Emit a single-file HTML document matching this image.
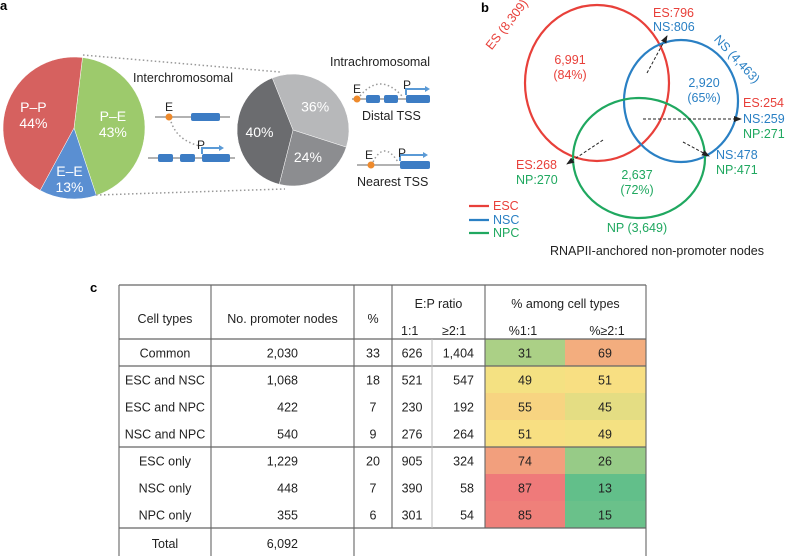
<!DOCTYPE html>
<html><head><meta charset="utf-8"><style>
body{margin:0;background:#fff;width:791px;height:556px;overflow:hidden;font-family:"Liberation Sans",Arial,sans-serif}
svg{position:absolute;left:0;top:0}
text{font-family:"Liberation Sans",Arial,sans-serif}
</style></head><body>
<svg id="fig" width="791" height="556" viewBox="0 0 791 556">
<text x="0" y="10" font-size="13" font-weight="bold">a</text>
<g id="pie1"></g>
<g id="pie2"></g>
<line x1="83" y1="55" x2="280" y2="72" stroke="#999" stroke-width="1.5" stroke-dasharray="1.5,2.5"/>
<line x1="96" y1="195" x2="285" y2="189" stroke="#999" stroke-width="1.5" stroke-dasharray="1.5,2.5"/>
<text x="133" y="82" font-size="12.5" fill="#222">Interchromosomal</text>
<text x="330" y="66" font-size="12.5" fill="#222">Intrachromosomal</text>
<g>
<line x1="155" y1="117" x2="230" y2="117" stroke="#999" stroke-width="1.5"/>
<rect x="191" y="113" width="29" height="8" rx="2" fill="#3c7cc4"/>
<path d="M170,118 Q175,140 200,146" fill="none" stroke="#999" stroke-width="1.5" stroke-dasharray="1.5,2.5"/>
<circle cx="169" cy="117" r="3.5" fill="#ee8a2c"/>
<text x="165" y="111" font-size="12" fill="#222">E</text>
<line x1="148" y1="158" x2="235" y2="158" stroke="#999" stroke-width="1.5"/>
<rect x="158" y="154" width="15" height="8" rx="2" fill="#3c7cc4"/>
<rect x="180" y="154" width="15" height="8" rx="2" fill="#3c7cc4"/>
<rect x="202" y="154" width="28" height="8" rx="2" fill="#3c7cc4"/>
<path d="M202,154 V148 H220" fill="none" stroke="#5a9ad6" stroke-width="2"/><path d="M219,145 L224,148 L219,151Z" fill="#5a9ad6"/>
<text x="197" y="149" font-size="12" fill="#222">P</text>
</g>
<g>
<line x1="352" y1="99" x2="430" y2="99" stroke="#999" stroke-width="1.5"/>
<rect x="366" y="95" width="14" height="8" rx="2" fill="#3c7cc4"/>
<rect x="384" y="95" width="14" height="8" rx="2" fill="#3c7cc4"/>
<rect x="406" y="95" width="24" height="8" rx="2" fill="#3c7cc4"/>
<path d="M360,96 Q380,72 402,96" fill="none" stroke="#999" stroke-width="1.5" stroke-dasharray="1.5,2.5"/>
<path d="M406,95 V89 H426" fill="none" stroke="#5a9ad6" stroke-width="2"/><path d="M425,86 L430,89 L425,92Z" fill="#5a9ad6"/>
<circle cx="357" cy="99" r="3.5" fill="#ee8a2c"/>
<text x="353" y="93" font-size="12" fill="#222">E</text>
<text x="403" y="89" font-size="12" fill="#222">P</text>
<text x="362" y="120" font-size="12.5" fill="#222">Distal TSS</text>
</g>
<g>
<line x1="357" y1="165" x2="430" y2="165" stroke="#999" stroke-width="1.5"/>
<rect x="400" y="161" width="30" height="8" rx="2" fill="#3c7cc4"/>
<path d="M373,162 Q384,140 398,162" fill="none" stroke="#999" stroke-width="1.5" stroke-dasharray="1.5,2.5"/>
<path d="M400,161 V155 H424" fill="none" stroke="#5a9ad6" stroke-width="2"/><path d="M423,152 L428,155 L423,158Z" fill="#5a9ad6"/>
<circle cx="371" cy="165" r="3.5" fill="#ee8a2c"/>
<text x="365" y="159" font-size="12" fill="#222">E</text>
<text x="398" y="157" font-size="12" fill="#222">P</text>
<text x="357" y="186" font-size="12.5" fill="#222">Nearest TSS</text>
</g>

<text x="481" y="12" font-size="13" font-weight="bold">b</text>
<g>
<ellipse cx="597" cy="83" rx="72" ry="78" fill="none" stroke="#e8403a" stroke-width="2.2"/>
<ellipse cx="681" cy="101" rx="57" ry="61" fill="none" stroke="#2a80c4" stroke-width="2.2"/>
<ellipse cx="639" cy="158" rx="66" ry="60" fill="none" stroke="#20a860" stroke-width="2.2"/>
</g>
<g font-size="12.5" text-anchor="middle">
<text x="510" y="27" fill="#e8403a" transform="rotate(-52 510 27)">ES (8,309)</text>
<text x="734" y="62" fill="#2a80c4" transform="rotate(47 734 62)">NS (4,463)</text>
<text x="637" y="232" fill="#20a860">NP (3,649)</text>
<text x="570" y="64" fill="#e8403a">6,991</text>
<text x="570" y="79" fill="#e8403a">(84%)</text>
<text x="704" y="87" fill="#2a80c4">2,920</text>
<text x="704" y="102" fill="#2a80c4">(65%)</text>
<text x="637" y="179" fill="#20a860">2,637</text>
<text x="637" y="194" fill="#20a860">(72%)</text>
</g>
<g font-size="12.5">
<text x="653" y="17" fill="#e8403a">ES:796</text><text x="653" y="31" fill="#2a80c4">NS:806</text>
<text x="743" y="107" fill="#e8403a">ES:254</text><text x="743" y="123" fill="#2a80c4">NS:259</text><text x="743" y="138" fill="#20a860">NP:271</text>
<text x="716" y="159" fill="#2a80c4">NS:478</text><text x="716" y="174" fill="#20a860">NP:471</text>
<text x="516" y="169" fill="#e8403a">ES:268</text><text x="516" y="184" fill="#20a860">NP:270</text>
</g>
<defs><marker id="ah" markerWidth="8" markerHeight="8" refX="7" refY="4" orient="auto"><path d="M0,1 L8,4 L0,7 Z" fill="#222"/></marker></defs>
<g stroke="#222" stroke-width="1" stroke-dasharray="3,2" marker-end="url(#ah)">
<line x1="647" y1="73" x2="667" y2="36"/>
<line x1="643" y1="119" x2="741" y2="119"/>
<line x1="683" y1="142" x2="709" y2="156"/>
<line x1="603" y1="140" x2="567" y2="164"/>
</g>
<g>
<line x1="469" y1="206" x2="489" y2="206" stroke="#e8403a" stroke-width="2.2"/><text x="493" y="210" font-size="12.5" fill="#e8403a">ESC</text>
<line x1="469" y1="220" x2="489" y2="220" stroke="#2a80c4" stroke-width="2.2"/><text x="493" y="224" font-size="12.5" fill="#2a80c4">NSC</text>
<line x1="469" y1="233" x2="489" y2="233" stroke="#20a860" stroke-width="2.2"/><text x="493" y="237" font-size="12.5" fill="#20a860">NPC</text>
</g>
<text x="657" y="255" font-size="12.5" text-anchor="middle" fill="#222">RNAPII-anchored non-promoter nodes</text>

<text x="90" y="292" font-size="13" font-weight="bold">c</text>
<g id="table"></g>
</svg>
<script>
const SVGNS="http://www.w3.org/2000/svg";
function mk(tag,attrs,parent){const e=document.createElementNS(SVGNS,tag);for(const k in attrs)e.setAttribute(k,attrs[k]);parent.appendChild(e);return e;}
const pie1Labels=["P–E","E–E","P–P"];
const pie1Values=[43,13,44];
const pie1Colors=["#9dca6c","#5a8fd2","#d6615f"];
const pie2Labels=["36%","24%","40%"];
const pie2Values=[36,24,40];
const pie2Colors=["#b7b8ba","#8c8d90","#6b6c6f"];
function drawPie(g,cx,cy,r,start,vals,cols,labels,subs,lr){
  const tot=vals.reduce((a,b)=>a+b,0);let a=start;
  vals.forEach((v,i)=>{
    const a1=a+v/tot*2*Math.PI;
    const p=(t)=>[cx+r*Math.sin(t),cy-r*Math.cos(t)];
    const [x0,y0]=p(a),[x1,y1]=p(a1);
    const path=mk('path',{d:`M${cx},${cy} L${x0},${y0} A${r},${r} 0 ${a1-a>Math.PI?1:0} 1 ${x1},${y1} Z`,fill:cols[i],stroke:'#fff','stroke-width':0.5},g);
    
    
    const m=(a+a1)/2;const lx=cx+lr[i]*r*Math.sin(m),ly=cy-lr[i]*r*Math.cos(m);
    if(subs){
      const t=mk('text',{x:lx,y:ly-3,'font-size':14,fill:'#fff','text-anchor':'middle'},g);t.textContent=labels[i];
      const t2=mk('text',{x:lx,y:ly+13,'font-size':14,fill:'#fff','text-anchor':'middle'},g);t2.textContent=v+"%";
    } else {
      const t=mk('text',{x:lx,y:ly+5,'font-size':14,fill:'#fff','text-anchor':'middle'},g);t.textContent=labels[i];
    }
    a=a1;
  });
}
drawPie(document.getElementById('pie1'),74,128,71,0.12,pie1Values,pie1Colors,pie1Labels,true,[0.55,0.72,0.6]);
drawPie(document.getElementById('pie2'),293,130,56,-0.38,pie2Values,pie2Colors,pie2Labels,false,[0.58,0.55,0.6]);

const rowNames=["Common","ESC and NSC","ESC and NPC","NSC and NPC","ESC only","NSC only","NPC only"];
const nodes=["2,030","1,068","422","540","1,229","448","355"];
const pct=[33,18,7,9,20,7,6];
const r11=[626,521,230,276,905,390,301];
const r21=["1,404","547","192","264","324","58","54"];
const p11=[31,49,55,51,74,87,85];
const p21=[69,51,45,49,26,13,15];
function heat(v){
  const g=[98,191,138],y=[248,226,130],r=[239,122,122];
  let c;if(v<=50){const t=Math.max(0,(v-13)/37);c=g.map((x,i)=>x+(y[i]-x)*t);}else{const t=Math.min(1,(v-50)/37);c=y.map((x,i)=>x+(r[i]-x)*t);}
  return `rgb(${c.map(Math.round).join(',')})`;
}
const T=document.getElementById('table');
const X=[119,211,354,392,432,485,565,646];
const tableTop=285,hb=339,rh=27;
rowNames.forEach((n,i)=>{
  const y=hb+i*rh;
  let c=mk('rect',{x:X[5],y:y,width:X[6]-X[5],height:rh+0.5,fill:heat(p11[i])},T);
  
  
  c=mk('rect',{x:X[6],y:y,width:X[7]-X[6],height:rh+0.5,fill:heat(p21[i])},T);
  
  
});
const lines=[[X[0],tableTop,X[7],tableTop],[X[0],hb,X[7],hb],[X[0],hb+rh,X[7],hb+rh],[X[0],hb+4*rh,X[7],hb+4*rh],[X[0],hb+7*rh,X[7],hb+7*rh]];
lines.forEach(l=>mk('line',{x1:l[0],y1:l[1],x2:l[2],y2:l[3],stroke:'#666','stroke-width':1.3},T));
[0,1,2,7].forEach(k=>mk('line',{x1:X[k],y1:tableTop,x2:X[k],y2:556,stroke:'#666','stroke-width':1.1},T));
[3,5].forEach(k=>mk('line',{x1:X[k],y1:tableTop,x2:X[k],y2:hb+7*rh,stroke:'#666','stroke-width':1.1},T));
mk('line',{x1:X[4],y1:hb,x2:X[4],y2:hb+7*rh,stroke:'#bbb','stroke-width':1},T);
function tx(s,x,y,anchor){const t=mk('text',{x:x,y:y,'font-size':12.5,fill:'#222','text-anchor':anchor||'middle'},T);t.textContent=s;return t;}
tx("Cell types",(X[0]+X[1])/2,323);tx("No. promoter nodes",(X[1]+X[2])/2,323);tx("%",(X[2]+X[3])/2,323);
tx("E:P ratio",(X[3]+X[5])/2,308);tx("1:1",401,335,'start');tx("≥2:1",442,335,'start');
tx("% among cell types",(X[5]+X[7])/2,308);tx("%1:1",523,335);tx("%≥2:1",607,335);
rowNames.forEach((n,i)=>{
  const y=hb+i*rh+rh/2+5;
  tx(n,(X[0]+X[1])/2,y);tx(nodes[i],298,y,'end');tx(String(pct[i]),373,y);
  tx(String(r11[i]),412,y);tx(r21[i],474,y,'end');tx(String(p11[i]),525,y);tx(String(p21[i]),605,y);
});
tx("Total",(X[0]+X[1])/2,hb+7*rh+20);tx("6,092",298,hb+7*rh+20,'end');
</script>
</body></html>
